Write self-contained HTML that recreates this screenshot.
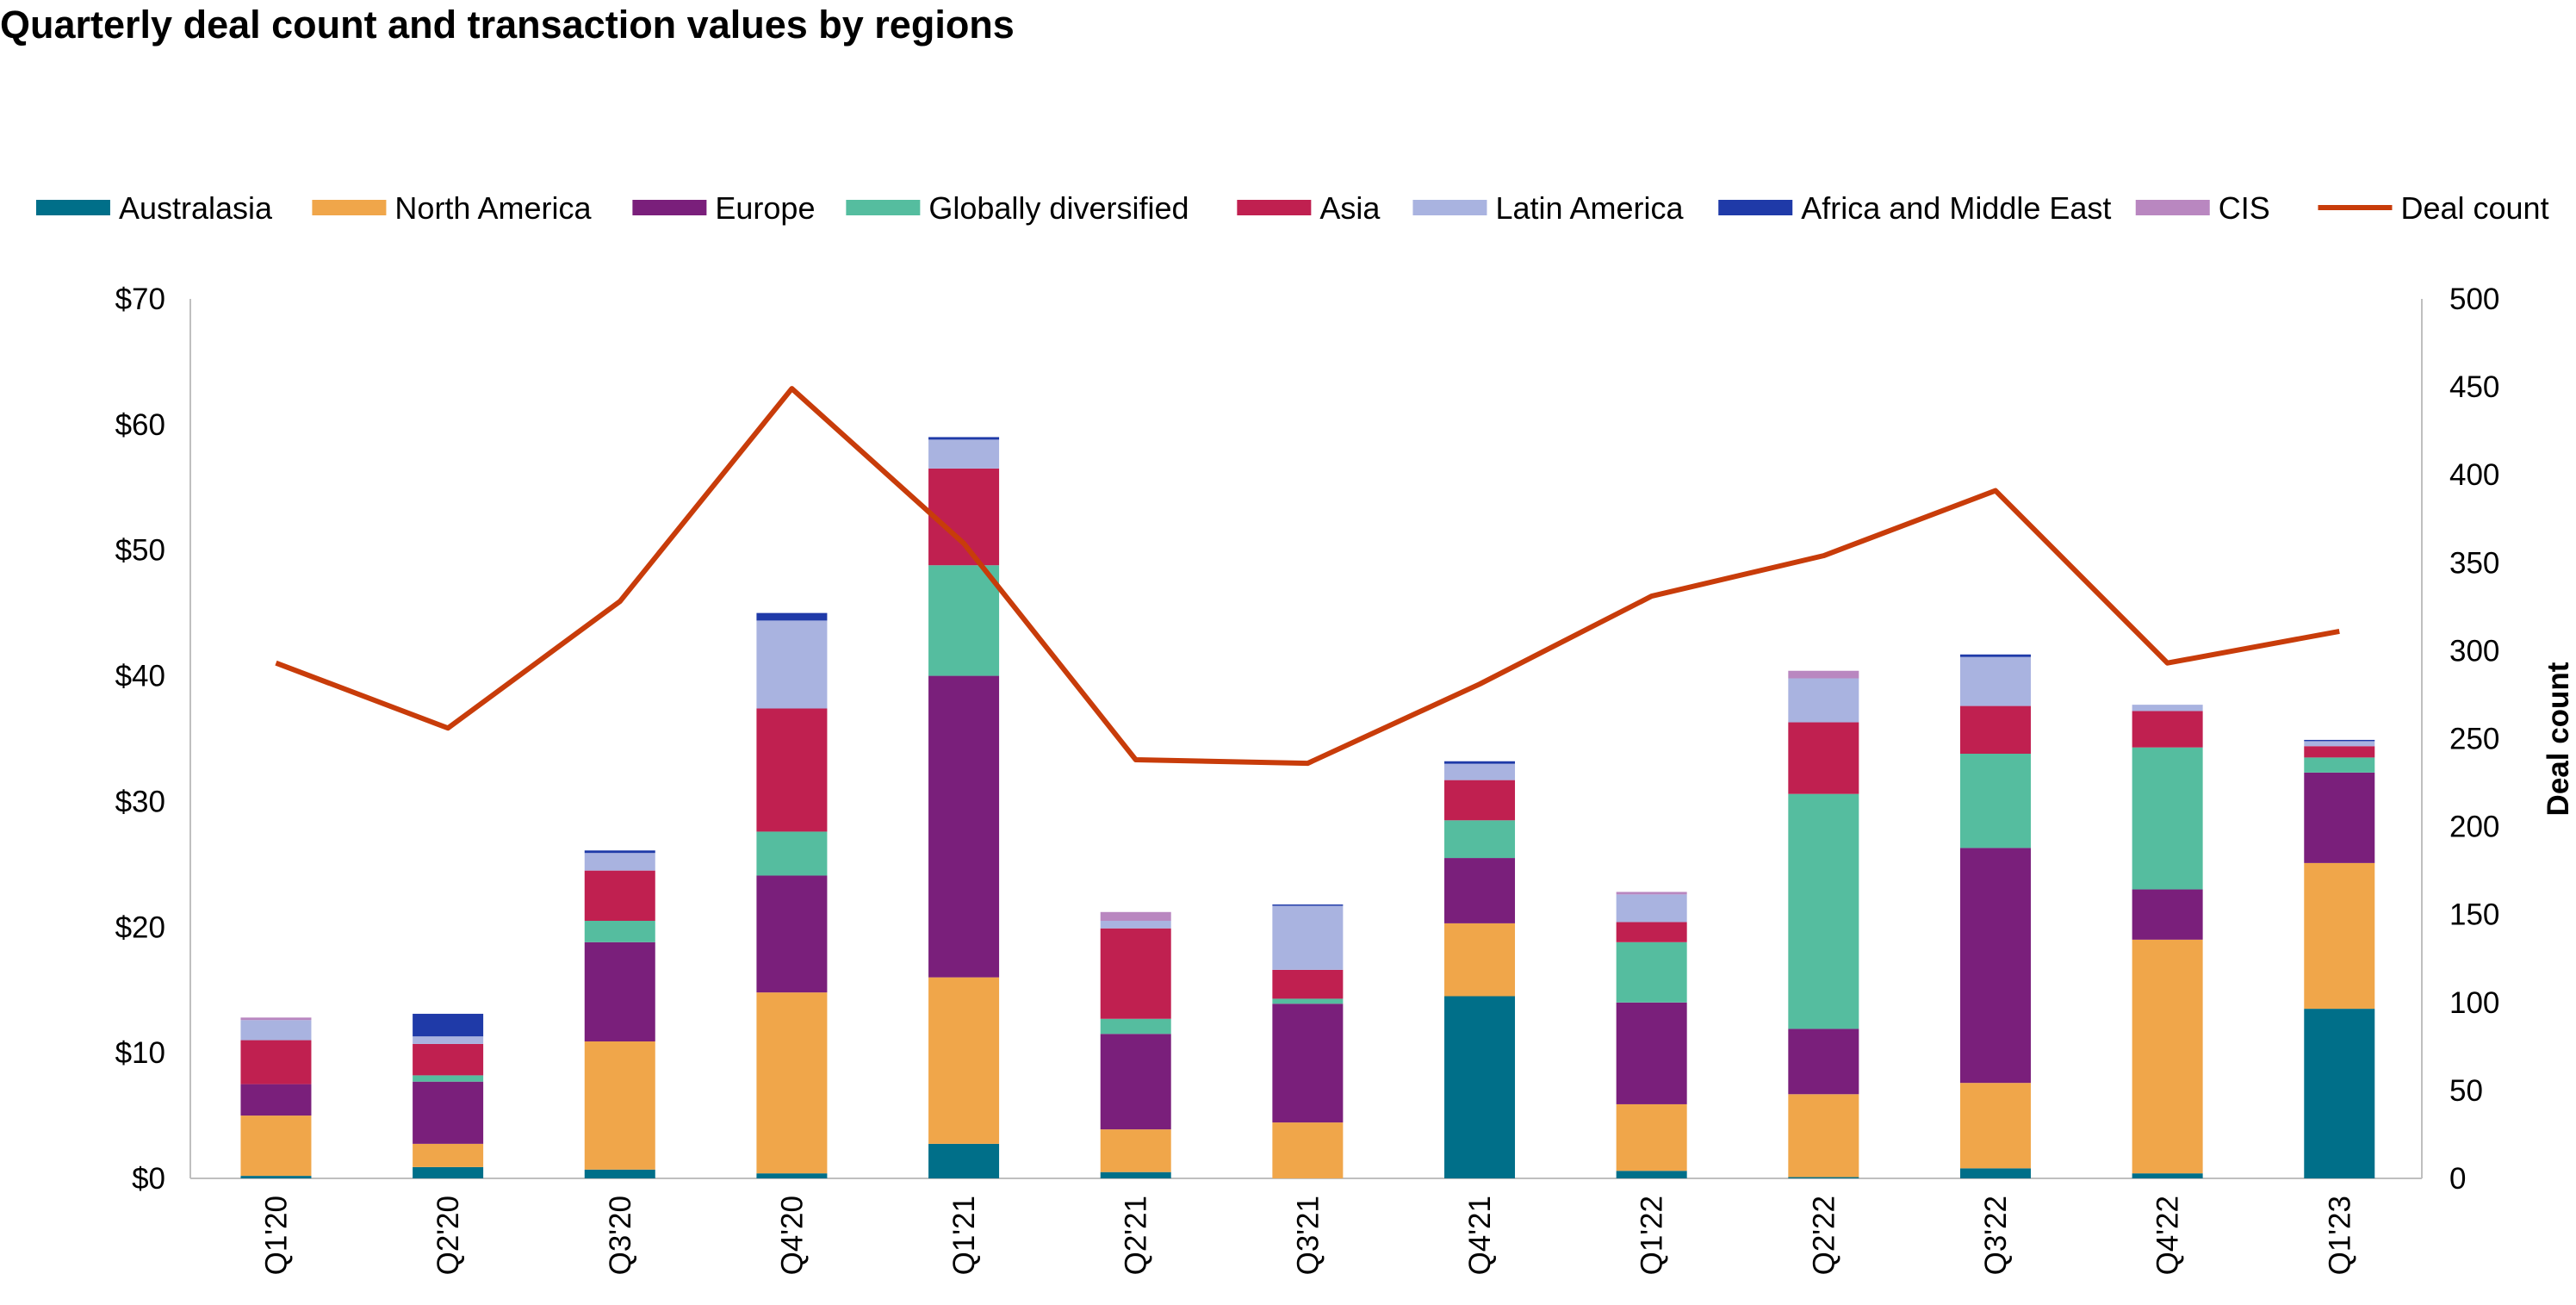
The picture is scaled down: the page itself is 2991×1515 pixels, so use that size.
<!DOCTYPE html>
<html><head><meta charset="utf-8"><style>
html,body{margin:0;padding:0;background:#fff}
svg{display:block;font-family:"Liberation Sans",Arial,sans-serif}
</style></head><body>
<svg id="chart" width="2991" height="1515" viewBox="0 0 2991 1515" xmlns="http://www.w3.org/2000/svg">
<text x="0" y="44" font-size="45" font-weight="bold" fill="#000">Quarterly deal count and transaction values by regions</text>
<g id="legend"></g>
<g id="grid"></g>
<g id="bars"></g>
<g id="line"></g>
</svg>
<script>
const categories = ["Q1'20","Q2'20","Q3'20","Q4'20","Q1'21","Q2'21","Q3'21","Q4'21","Q1'22","Q2'22","Q3'22","Q4'22","Q1'23"];
const australasia = [0.2,0.9,0.7,0.4,2.75,0.5,0,14.5,0.6,0.1,0.8,0.4,13.5];
const northAmerica = [4.8,1.85,10.2,14.4,13.25,3.4,4.45,5.8,5.3,6.6,6.8,18.6,11.6];
const europe = [2.5,4.95,7.9,9.3,24,7.6,9.45,5.2,8.1,5.2,18.7,4,7.2];
const globallyDiversified = [0,0.5,1.7,3.5,8.8,1.2,0.4,3,4.8,18.7,7.5,11.3,1.2];
const asia = [3.5,2.5,4,9.8,7.7,7.2,2.3,3.2,1.6,5.7,3.8,2.9,0.9];
const latinAmerica = [1.6,0.6,1.4,7,2.3,0.6,5.1,1.3,2.2,3.5,3.9,0.5,0.4];
const africaME = [0,1.8,0.2,0.6,0.2,0,0.1,0.2,0,0,0.2,0,0.1];
const cis = [0.2,0,0,0,0,0.7,0,0,0.2,0.6,0,0,0];
const dealCount = [293,256,328,449,361,238,236,281,331,354,391,293,311];
const leftTicks = ["$0","$10","$20","$30","$40","$50","$60","$70"];
const rightTicks = ["0","50","100","150","200","250","300","350","400","450","500"];

const NS="http://www.w3.org/2000/svg";
function mk(tag,attrs,parent,text){const e=document.createElementNS(NS,tag);for(const k in attrs)e.setAttribute(k,attrs[k]);if(text!==undefined)e.textContent=text;parent.appendChild(e);return e;}
const L=221,R=2812,Y0=1368,Y1=347;
const yL=v=>Y0-(v/70)*(Y0-Y1);
const yR=v=>Y0-(v/500)*(Y0-Y1);
const step=(1424-168)/12*1.9075;
const xC=i=>168*1.9075+i*step;
const bw=82;

const series=[
 {name:"Australasia",data:australasia,color:"#006f89"},
 {name:"North America",data:northAmerica,color:"#f0a64a"},
 {name:"Europe",data:europe,color:"#7a1f7b"},
 {name:"Globally diversified",data:globallyDiversified,color:"#55bd9f"},
 {name:"Asia",data:asia,color:"#c02050"},
 {name:"Latin America",data:latinAmerica,color:"#a9b3e0"},
 {name:"Africa and Middle East",data:africaME,color:"#1f3aa8"},
 {name:"CIS",data:cis,color:"#b987c0"}];

const grid=document.getElementById('grid');
let a=mk('line',{x1:L,y1:Y1,x2:L,y2:Y0,stroke:"#bfbfbf","stroke-width":2},grid);

a=mk('line',{x1:R,y1:Y1,x2:R,y2:Y0,stroke:"#bfbfbf","stroke-width":2},grid);

a=mk('line',{x1:L,y1:Y0,x2:R,y2:Y0,stroke:"#bfbfbf","stroke-width":2},grid);

leftTicks.forEach((t,i)=>{const e=mk('text',{x:192,y:yL(i*10)+12,"font-size":35,"text-anchor":"end",fill:"#000"},grid,t);
});
rightTicks.forEach((t,i)=>{const e=mk('text',{x:2844,y:yR(i*50)+12,"font-size":35,fill:"#000"},grid,t);
});
a=mk('text',{transform:"translate(2982,858) rotate(-90)","font-size":35,"font-weight":"bold","text-anchor":"middle",fill:"#000"},grid,"Deal count");

categories.forEach((c,i)=>{const e=mk('text',{transform:`translate(${xC(i)+12},1388) rotate(-90)`,"font-size":35,"text-anchor":"end",fill:"#000"},grid,c);
});

const bars=document.getElementById('bars');
categories.forEach((c,i)=>{let cum=0;series.forEach(s=>{const v=s.data[i];if(v>0){const r=mk('rect',{x:xC(i)-bw/2,y:yL(cum+v),width:bw,height:yL(cum)-yL(cum+v),fill:s.color},bars);
}cum+=v;});});

const lg=document.getElementById('line');
const pl=mk('polyline',{points:dealCount.map((v,i)=>xC(i)+","+yR(v)).join(" "),fill:"none",stroke:"#c83c0a","stroke-width":6,"stroke-linejoin":"round"},lg);


const legend=document.getElementById('legend');
const lx=[22,190,385,515,753,860,1046,1300];
series.forEach((s,i)=>{const sx=lx[i]*1.9075;const r=mk('rect',{x:sx,y:232,width:86,height:18,fill:s.color},legend);

const t=mk('text',{x:sx+96,y:254,"font-size":36,fill:"#000"},legend,s.name);
});
const dx=1411*1.9075;
a=mk('line',{x1:dx,y1:241,x2:dx+86,y2:241,stroke:"#c83c0a","stroke-width":6},legend);

a=mk('text',{x:dx+96,y:254,"font-size":36,fill:"#000"},legend,"Deal count");

</script>
</body></html>
